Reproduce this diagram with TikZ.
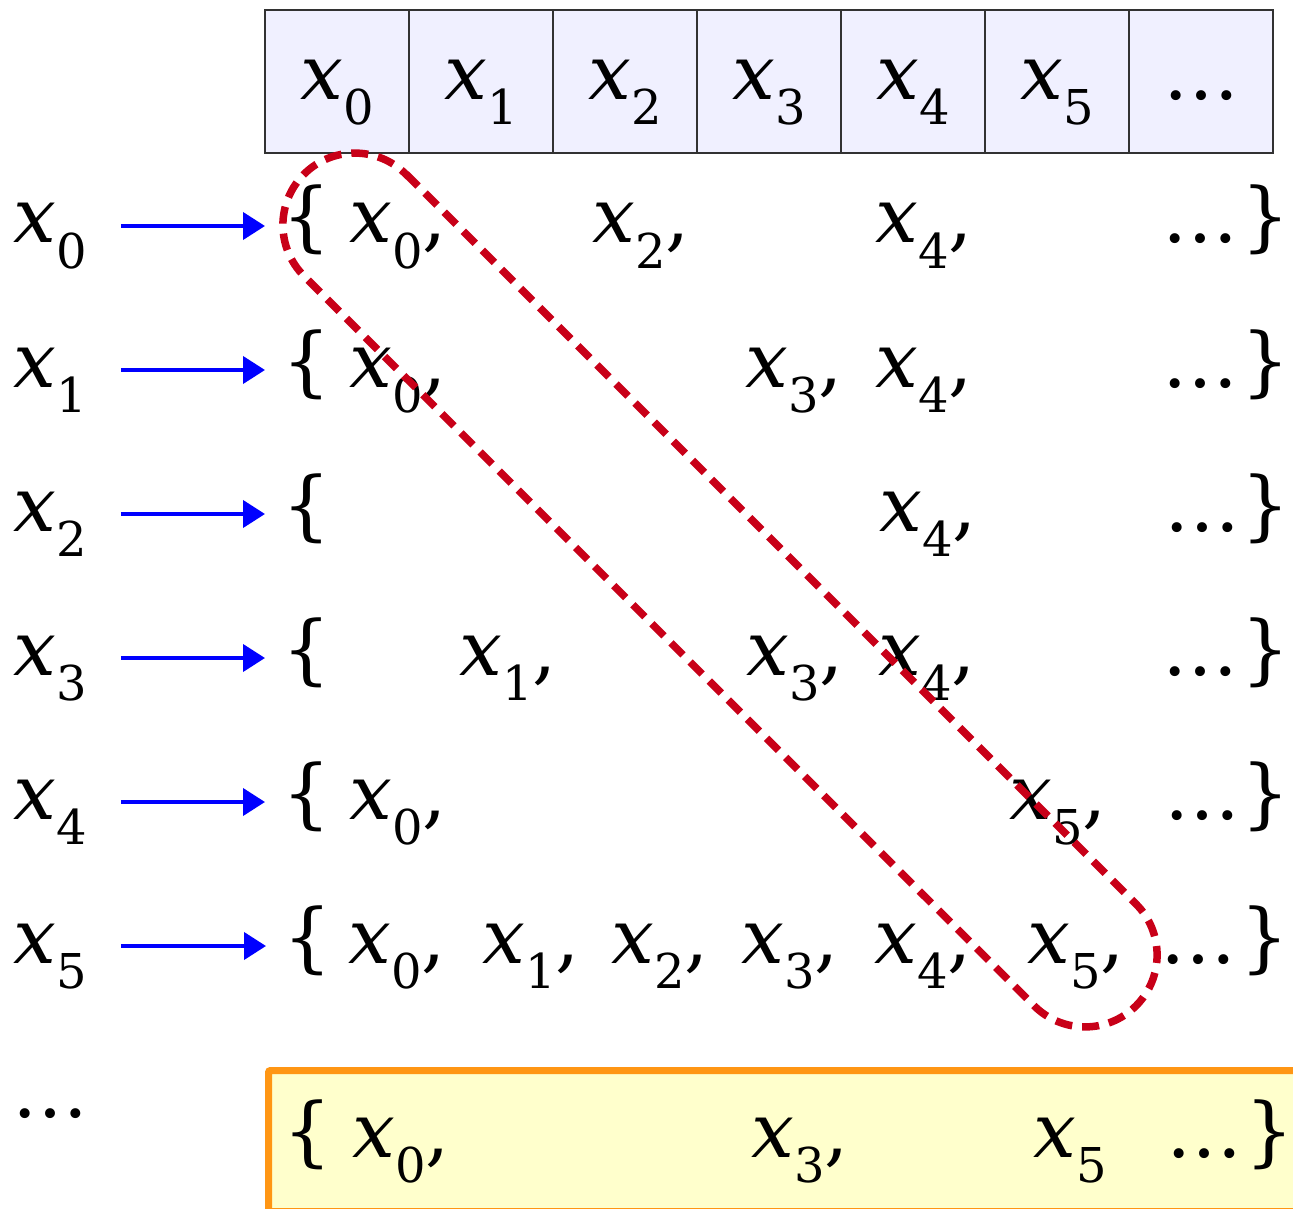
\documentclass[tikz,border=0pt]{standalone}
\usepackage{fontspec}
\setmainfont{DejaVu Serif}
\usetikzlibrary{arrows.meta}
\newcommand{\xs}[1]{{\itshape x}\raisebox{-25pt}{\fontsize{48}{48}\selectfont #1}}
\definecolor{cellfill}{RGB}{240,240,255}
\definecolor{celldraw}{RGB}{50,50,50}
\definecolor{dashred}{RGB}{200,0,24}
\definecolor{boxfill}{RGB}{255,255,204}
\definecolor{boxdraw}{RGB}{255,150,20}
\begin{document}
\begin{tikzpicture}[x=1pt,y=-1pt,
  txt/.style={inner sep=0pt, anchor=base west, font=\fontsize{76}{90}\selectfont},
  cell/.style={draw=celldraw, fill=cellfill, line width=1.1pt, inner sep=0pt,
    minimum width=144pt, text height=90pt, text depth=53pt, anchor=base,
    font=\fontsize{76}{90}\selectfont},
  arr/.style={draw=blue, line width=4pt, -{Triangle[length=22pt,width=27pt]}},
  loop/.style={draw=dashred, line width=7.5pt, dash pattern=on 17pt off 10pt},
  bottombox/.style={draw=boxdraw, fill=boxfill, line width=7pt, rounded corners=2pt,
    inner sep=0pt, minimum width=1060pt, minimum height=141pt, anchor=north west}
]
\clip (0,0) rectangle (1293,1209);
% top cells
\node[cell] (c0) at (337,100) {\xs{0}};
\node[cell] (c1) at (481,100) {\xs{1}};
\node[cell] (c2) at (625,100) {\xs{2}};
\node[cell] (c3) at (769,100) {\xs{3}};
\node[cell] (c4) at (913,100) {\xs{4}};
\node[cell] (c5) at (1057,100) {\xs{5}};
\node[cell] (c6) at (1201,100) {…};
% bottom box
\node[bottombox] (bb) at (265,1067) {};
% row labels
\node[txt] (l0) at (13,243) {\xs{0}};
\node[txt] (l1) at (13,387) {\xs{1}};
\node[txt] (l2) at (13,531) {\xs{2}};
\node[txt] (l3) at (13,675) {\xs{3}};
\node[txt] (l4) at (13,819) {\xs{4}};
\node[txt] (l5) at (13,963) {\xs{5}};
\node[txt] (ld) at (12,1117) {…};
% row 0
\node[txt] (b0) at (282,243) {\{};
\node[txt] at (349,243) {\xs{0},};
\node[txt] at (592,243) {\xs{2},};
\node[txt] at (875,243) {\xs{4},};
\node[txt] at (1162,243) {…};
\node[txt] at (1241,243) {\}};
% row 1
\node[txt] (b1) at (282,387) {\{};
\node[txt] at (349,387) {\xs{0},};
\node[txt] at (745,387) {\xs{3},};
\node[txt] at (875,387) {\xs{4},};
\node[txt] at (1162,387) {…};
\node[txt] at (1241,387) {\}};
% row 2
\node[txt] (b2) at (282,531) {\{};
\node[txt] at (879,531) {\xs{4},};
\node[txt] at (1164,531) {…};
\node[txt] at (1241,531) {\}};
% row 3
\node[txt] (b3) at (282,675) {\{};
\node[txt] at (459,675) {\xs{1},};
\node[txt] at (746,675) {\xs{3},};
\node[txt] at (878,675) {\xs{4},};
\node[txt] at (1162,675) {…};
\node[txt] at (1241,675) {\}};
% row 4
\node[txt] (b4) at (282,819) {\{};
\node[txt] at (349,819) {\xs{0},};
\node[txt] at (1009,819) {\xs{5},};
\node[txt] at (1164,819) {…};
\node[txt] at (1241,819) {\}};
% row 5
\node[txt] (b5) at (283,963) {\{};
\node[txt] at (348,963) {\xs{0},};
\node[txt] at (482,963) {\xs{1},};
\node[txt] at (611,963) {\xs{2},};
\node[txt] at (741,963) {\xs{3},};
\node[txt] at (874,963) {\xs{4},};
\node[txt] at (1027,963) {\xs{5},};
\node[txt] at (1160,963) {…};
\node[txt] at (1240,963) {\}};
% bottom row
\node[txt] (bb0) at (283,1157) {\{};
\node[txt] at (352,1157) {\xs{0},};
\node[txt] at (751,1157) {\xs{3},};
\node[txt] at (1033,1157) {\xs{5}};
\node[txt] at (1166,1157) {…};
\node[txt] at (1245,1157) {\}};
% arrows
\foreach \i/\yy in {0/226,1/370,2/514,3/658,4/802,5/946}{
  \coordinate (y\i) at (0,\yy);
  \draw[arr] (l\i.east |- y\i) ++(34,0) -- ([xshift=-17pt]b\i.west |- y\i);
}
% red dashed loop
\draw[loop] (406,174) -- (1136,904)
  arc[start angle=-45, end angle=135, radius=72]
  -- (304,276)
  arc[start angle=135, end angle=315, radius=72] -- cycle;
\end{tikzpicture}
\end{document}
